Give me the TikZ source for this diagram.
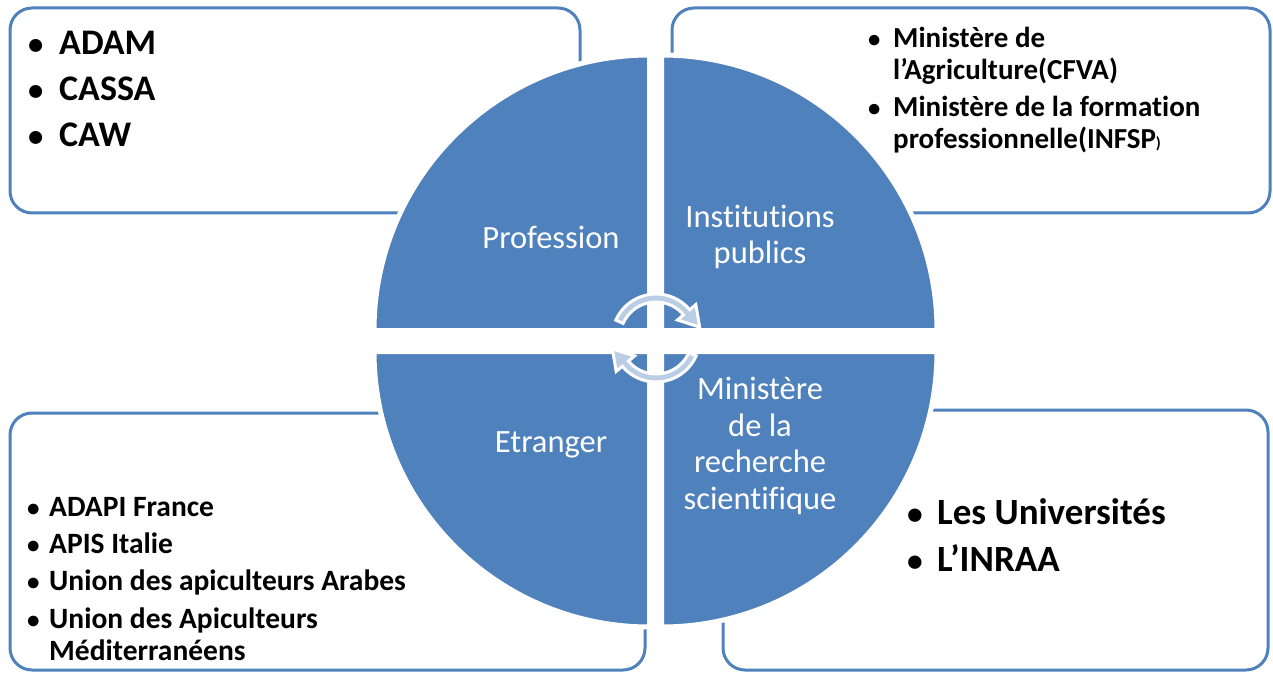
\documentclass[tikz,border=0pt]{standalone}
\usepackage{fontspec}
\setmainfont{Carlito}[Ligatures=NoCommon]
\usepackage{tikz}
\usetikzlibrary{calc}
\usetikzlibrary{matrix}

\definecolor{accent}{RGB}{79,129,189}
\definecolor{arrowfill}{RGB}{185,205,229}

\newcommand{\blt}{\scalebox{0.85}{\textbullet}}

\begin{document}
\begin{tikzpicture}[x=1pt,y=1pt,
    box/.style={draw=accent,fill=white,line width=3pt,rounded corners=22pt},
    quad/.style={fill=accent,draw=white,line width=5pt},
    cyc/.style={fill=arrowfill,draw=white,line width=3pt,line join=miter},
    quadtext/.style={text=white,align=center,inner sep=0pt,
                     font=\fontsize{32.5}{36.5}\selectfont},
    bullets/.style={matrix of nodes,nodes in empty cells,inner sep=0pt,
                    row sep=0pt,column sep=0pt,anchor=north west},
  ]
  \useasboundingbox (0,0) rectangle (1273,673);

  \draw[box] (10,460) rectangle (580,665);
  \draw[box] (672,460) rectangle (1270,665);
  \draw[box] (10,3) rectangle (645,260);
  \draw[box] (723,3) rectangle (1268,263);

  \filldraw[quad] (649.5,342.5) -- ++(-275.5,0) arc (180:90:275.5) -- cycle;
  \filldraw[quad] (661.5,342.5) -- ++(0,275.5) arc (90:0:275.5) -- cycle;
  \filldraw[quad] (649.5,321.5) -- ++(0,-275.5) arc (270:180:275.5) -- cycle;
  \filldraw[quad] (661.5,321.5) -- ++(275.5,0) arc (0:-90:275.5) -- cycle;

  \node[quadtext] (profession) at (551,436) {Profession};
  \node[quadtext] (institutions) at (760,436) {Institutions\\publics};
  \node[quadtext] (etranger) at (551,228) {Etranger};
  \node[quadtext] (recherche) at (760,227) {Ministère\\de la\\recherche\\scientifique};

  \coordinate (hub) at (656,335);
  \filldraw[cyc] ($(hub)+(156:44)$) arc (156:40:44) -- ($(hub)+(40:52)$)
    -- ($(hub)+(14:45)$) -- ($(hub)+(40:28)$) -- ($(hub)+(40:36)$)
    arc (40:156:36) -- cycle;
  \filldraw[cyc] ($(hub)+(-24:44)$) arc (-24:-140:44) -- ($(hub)+(-140:52)$)
    -- ($(hub)+(-166:45)$) -- ($(hub)+(-140:28)$) -- ($(hub)+(-140:36)$)
    arc (-140:-24:36) -- cycle;

  \matrix (profList) [bullets,
      nodes={inner sep=0pt,anchor=base west,font=\fontsize{36}{36}\selectfont\bfseries,
             text height=34pt,text depth=12pt},
      column 1/.style={nodes={text width=31pt}}] at (28,653)
  {
    \blt & ADAM \\
    \blt & CASSA \\
    \blt & CAW \\
  };

  \matrix (instList) [bullets,
      nodes={inner sep=0pt,anchor=base west,font=\fontsize{29}{29}\selectfont\bfseries,
             text height=24pt,text depth=8pt},
      column 1/.style={nodes={text width=25pt}}] at (868,650)
  {
    \blt & Ministère de \\
         & l’Agriculture(CFVA) \\[5pt]
    \blt & Ministère de la formation \\
         & professionnelle(INFSP{\fontsize{16}{16}\selectfont)} \\
  };

  \matrix (etrList) [bullets,
      nodes={inner sep=0pt,anchor=base west,font=\fontsize{29.5}{29.5}\selectfont\bfseries,
             text height=24pt,text depth=8pt},
      column 1/.style={nodes={text width=22pt}}] at (27,181)
  {
    \blt & ADAPI France \\[5.5pt]
    \blt & APIS Italie \\[5pt]
    \blt & Union des apiculteurs Arabes \\[5.5pt]
    \blt & Union des Apiculteurs \\
         & Méditerranéens \\
  };

  \matrix (rechList) [bullets,
      nodes={inner sep=0pt,anchor=base west,font=\fontsize{37}{37}\selectfont\bfseries,
             text height=34pt,text depth=13pt},
      column 1/.style={nodes={text width=30pt}}] at (907,183)
  {
    \blt & Les Universités \\
    \blt & L’INRAA \\
  };
\end{tikzpicture}
\end{document}
